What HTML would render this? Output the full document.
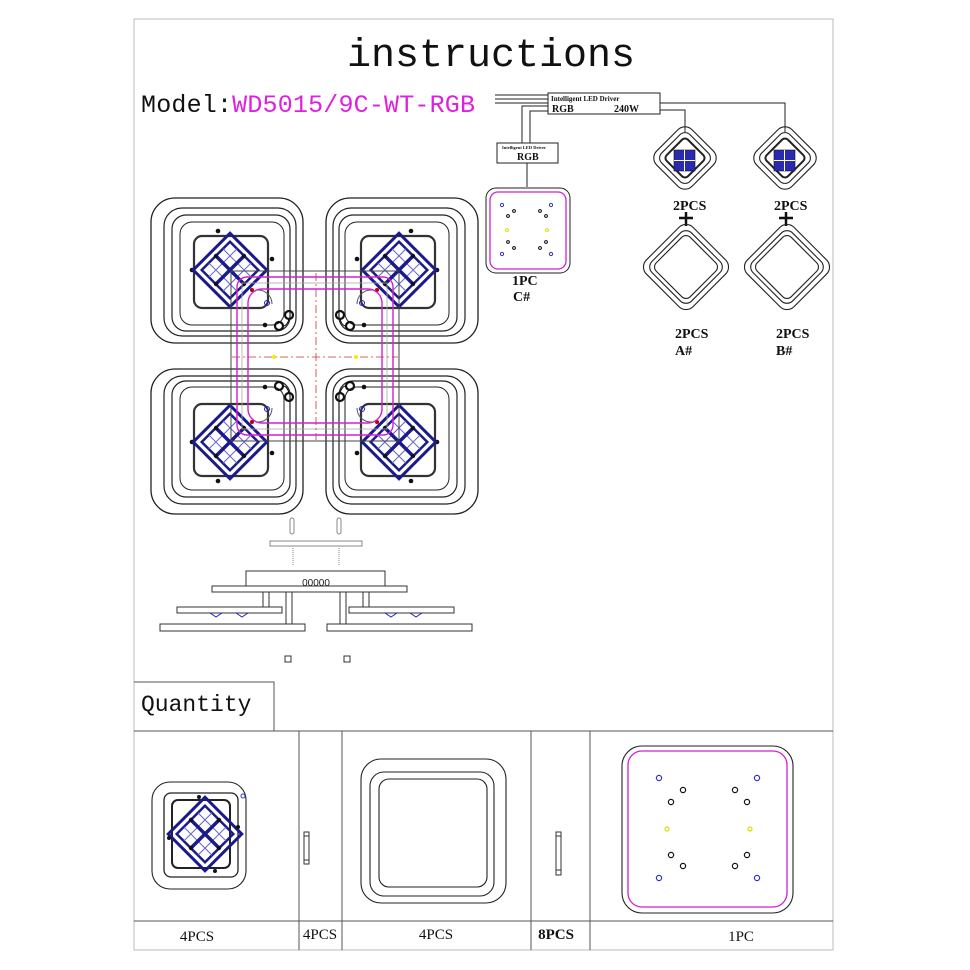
<!DOCTYPE html>
<html><head><meta charset="utf-8"><style>
html,body{margin:0;padding:0;background:#fff;width:970px;height:970px;overflow:hidden}
svg{display:block}
</style></head><body>
<svg width="970" height="970" viewBox="0 0 970 970" xmlns="http://www.w3.org/2000/svg">
<defs>
<g id="dia">
 <g transform="rotate(45)">
  <rect x="-26" y="-26" width="52" height="52" fill="none" stroke="#1a1a8c" stroke-width="3"/>
  <rect x="-20" y="-20" width="40" height="40" fill="none" stroke="#1a1a8c" stroke-width="2.5"/>
  <path d="M-10 -20V20M10 -20V20M-20 -10H20M-20 10H20" stroke="#6060d0" stroke-width="1"/>
  <path d="M0 -20V20M-20 0H20" stroke="#1a1a8c" stroke-width="3.5"/>
 </g>
 <circle cx="-14" cy="-14" r="2.2" fill="#111"/><circle cx="14" cy="-14" r="2.2" fill="#111"/>
 <circle cx="-14" cy="14" r="2.2" fill="#111"/><circle cx="14" cy="14" r="2.2" fill="#111"/>
</g>
<g id="mod">
 <rect x="-76" y="-72" width="152" height="145" rx="24" fill="#fff" stroke="#222" stroke-width="1.3"/>
 <rect x="-63" y="-62" width="132" height="128" rx="18" fill="none" stroke="#222" stroke-width="1.2"/>
 <rect x="-55" y="-55" width="118" height="116" rx="14" fill="none" stroke="#222" stroke-width="1.2"/>
 <rect x="-47" y="-48" width="104" height="103" rx="12" fill="none" stroke="#222" stroke-width="1"/>
 <rect x="-33" y="-34" width="74" height="72" rx="8" fill="none" stroke="#333" stroke-width="2.2"/>
 <circle cx="-9" cy="-39" r="2.3" fill="#111"/><circle cx="-35" cy="0" r="2.3" fill="#111"/>
 <circle cx="45" cy="-11" r="2.3" fill="#111"/><circle cx="38" cy="55" r="2.3" fill="#111"/>
 <use href="#dia" x="3" y="0"/>
 <path d="M30 20 A14 14 0 0 1 45 34" fill="none" stroke="#555" stroke-width="1"/>
 <circle cx="40" cy="33" r="2.5" fill="none" stroke="#22c" stroke-width="1"/>
 <circle cx="25" cy="20" r="2" fill="#b00"/>
 <circle cx="62" cy="45" r="4" fill="none" stroke="#111" stroke-width="2.2"/>
 <circle cx="52" cy="56" r="4" fill="none" stroke="#111" stroke-width="2.2"/>
 <path d="M62 49 Q60 56 56 56" fill="none" stroke="#111" stroke-width="1"/>
</g>
</defs>
<rect x="134" y="19" width="699" height="931" fill="none" stroke="#bbb" stroke-width="1"/>
<text x="491" y="66" font-family="Liberation Mono, monospace" font-size="40" text-anchor="middle" fill="#111">instructions</text>
<text x="141" y="112" font-family="Liberation Mono, monospace" font-size="25" fill="#111" textLength="334">Model:<tspan fill="#e020e0">WD5015/9C-WT-RGB</tspan></text>

<g transform="translate(227,270)"><use href="#mod"/></g>
<g transform="translate(402,270) scale(-1,1)"><use href="#mod"/></g>
<g transform="translate(227,442) scale(1,-1)"><use href="#mod"/></g>
<g transform="translate(402,442) scale(-1,-1)"><use href="#mod"/></g>
<g fill="none">
 <rect x="231" y="271" width="168" height="170" stroke="#444" stroke-width="1"/>
 <rect x="237" y="277" width="156" height="158" rx="10" stroke="#d020d0" stroke-width="1.4"/>
 <rect x="248" y="289" width="134" height="134" rx="14" stroke="#d020d0" stroke-width="1.4"/>
 <rect x="242" y="283" width="145" height="146" stroke="#aaa" stroke-width="0.8"/>
 <line x1="316" y1="273" x2="316" y2="440" stroke="#d03030" stroke-width="0.8" stroke-dasharray="8 3 2 3"/>
 <line x1="232" y1="357" x2="398" y2="357" stroke="#d03030" stroke-width="0.8" stroke-dasharray="8 3 2 3"/>
</g>
<circle cx="274" cy="357" r="2" fill="#ee0"/><circle cx="356" cy="357" r="2" fill="#ee0"/>

<g stroke="#333" fill="#fff" stroke-width="1">
 <rect x="270" y="541" width="92" height="5" stroke="#888"/>
 <rect x="290" y="518" width="4" height="16" rx="2" stroke="#888"/>
 <rect x="337" y="518" width="4" height="16" rx="2" stroke="#888"/>
 <line x1="293" y1="548" x2="293" y2="566" stroke="#888" stroke-dasharray="1 1"/>
 <line x1="339" y1="548" x2="339" y2="566" stroke="#888" stroke-dasharray="1 1"/>
 <rect x="246" y="571" width="139" height="19"/>
 <rect x="212" y="586" width="195" height="6"/>
 <rect x="263" y="592" width="6" height="15"/><rect x="286" y="592" width="6" height="37"/>
 <rect x="340" y="592" width="6" height="37"/><rect x="363" y="592" width="6" height="15"/>
 <rect x="177" y="607" width="105" height="6"/><rect x="160" y="624" width="145" height="7"/>
 <rect x="349" y="607" width="105" height="6"/><rect x="327" y="624" width="145" height="7"/>
 <rect x="285" y="656" width="6" height="6"/><rect x="344" y="656" width="6" height="6"/>
</g>
<text x="316" y="586" font-family="Liberation Sans, sans-serif" font-size="10" text-anchor="middle" fill="#222">00000</text>
<path d="M210 613 l6 4 6 -4 M236 613 l6 4 6 -4 M385 613 l6 4 6 -4 M410 613 l6 4 6 -4" stroke="#22c" fill="none"/>

<g stroke="#222" fill="none" stroke-width="1">
 <path d="M495 95H548M495 99H548M495 103H548"/>
 <rect x="548" y="93" width="112" height="21" fill="#fff"/>
 <path d="M660 103H785V132M660 110H685V132"/>
 <path d="M548 106H522V143M548 111H530V143"/>
 <rect x="497" y="143" width="61" height="20" fill="#fff"/>
 <path d="M527 163V187"/>
 <rect x="486" y="188" width="84" height="85" rx="10"/>
 <rect x="490" y="192" width="76" height="77" rx="8" stroke="#d020d0" stroke-width="1.3"/>
</g>
<text x="551" y="101" font-family="Liberation Serif, serif" font-size="7" font-weight="bold" fill="#111">Intelligent LED Driver</text>
<text x="552" y="112" font-family="Liberation Serif, serif" font-size="10" font-weight="bold" fill="#111">RGB</text>
<text x="614" y="112" font-family="Liberation Serif, serif" font-size="10" font-weight="bold" fill="#111">240W</text>
<text x="502" y="149" font-family="Liberation Serif, serif" font-size="4.5" font-weight="bold" fill="#111">Intelligent LED Driver</text>
<text x="517" y="160" font-family="Liberation Serif, serif" font-size="10" font-weight="bold" fill="#111">RGB</text>
<g fill="none" stroke-width="1">
 <circle cx="502" cy="205" r="1.6" stroke="#33c"/><circle cx="551" cy="205" r="1.6" stroke="#33c"/>
 <circle cx="502" cy="254" r="1.6" stroke="#33c"/><circle cx="551" cy="254" r="1.6" stroke="#33c"/>
 <circle cx="508" cy="216" r="1.4" stroke="#111"/><circle cx="514" cy="211" r="1.4" stroke="#111"/>
 <circle cx="540" cy="211" r="1.4" stroke="#111"/><circle cx="546" cy="216" r="1.4" stroke="#111"/>
 <circle cx="508" cy="242" r="1.4" stroke="#111"/><circle cx="514" cy="248" r="1.4" stroke="#111"/>
 <circle cx="540" cy="248" r="1.4" stroke="#111"/><circle cx="546" cy="242" r="1.4" stroke="#111"/>
 <circle cx="507" cy="230" r="1.4" stroke="#dd0"/><circle cx="547" cy="230" r="1.4" stroke="#dd0"/>
</g>
<g font-family="Liberation Serif, serif" font-weight="bold" font-size="14" fill="#111">
 <text x="512" y="285">1PC</text><text x="513" y="301">C#</text>
 <text x="673" y="210">2PCS</text><text x="774" y="210">2PCS</text>
 <text x="675" y="338">2PCS</text><text x="776" y="338">2PCS</text>
 <text x="675" y="355">A#</text><text x="776" y="355">B#</text>
</g>
<path d="M686 212V226M679 218H693M786 212V226M779 218H793" stroke="#111" stroke-width="2.5"/>
<g fill="none" stroke="#222" stroke-width="1.1">
 <rect x="-25" y="-25" width="50" height="50" rx="10" transform="translate(685,158) rotate(45)"/>
 <rect x="-20" y="-20" width="40" height="40" rx="7" transform="translate(685,158) rotate(45)"/>
 <rect x="-15" y="-15" width="30" height="30" rx="4" transform="translate(685,158) rotate(45)" stroke-width="2"/>
 <rect x="-25" y="-25" width="50" height="50" rx="10" transform="translate(785,158) rotate(45)"/>
 <rect x="-20" y="-20" width="40" height="40" rx="7" transform="translate(785,158) rotate(45)"/>
 <rect x="-15" y="-15" width="30" height="30" rx="4" transform="translate(785,158) rotate(45)" stroke-width="2"/>
 <rect x="-33" y="-33" width="66" height="66" rx="10" transform="translate(686,267) rotate(45)"/>
 <rect x="-28" y="-28" width="56" height="56" rx="8" transform="translate(686,267) rotate(45)"/>
 <rect x="-24" y="-24" width="48" height="48" rx="6" transform="translate(686,267) rotate(45)"/>
 <rect x="-33" y="-33" width="66" height="66" rx="10" transform="translate(787,267) rotate(45)"/>
 <rect x="-28" y="-28" width="56" height="56" rx="8" transform="translate(787,267) rotate(45)"/>
 <rect x="-24" y="-24" width="48" height="48" rx="6" transform="translate(787,267) rotate(45)"/>
</g>
<g fill="#2a2ab0" stroke="#111" stroke-width="0.6">
 <rect x="674" y="150" width="21" height="21"/><rect x="774" y="150" width="21" height="21"/>
</g>
<path d="M684.5 150V171M674 160.5H695M784.5 150V171M774 160.5H795" stroke="#fff" stroke-width="1"/>

<g stroke="#555" fill="none" stroke-width="1">
 <path d="M134 682H274V731"/>
 <path d="M134 731H833M134 921H833"/>
 <path d="M299 731V950M342 731V950M531 731V950M590 731V950"/>
</g>
<text x="141" y="711" font-family="Liberation Mono, monospace" font-size="23" fill="#111">Quantity</text>
<g fill="none" stroke="#222" stroke-width="1.1">
 <rect x="152" y="782" width="94" height="107" rx="18" fill="#fff"/>
 <rect x="164" y="793" width="74" height="84" rx="7" stroke-width="1.3"/>
 <rect x="172" y="800" width="58" height="68" rx="6" stroke-width="2"/>
</g>
<use href="#dia" transform="translate(205,834)"/>
<circle cx="199" cy="797" r="2" fill="#111"/><circle cx="238" cy="827" r="2" fill="#111"/>
<circle cx="169" cy="838" r="2" fill="#111"/><circle cx="215" cy="871" r="2" fill="#111"/>
<circle cx="243" cy="796" r="2" fill="none" stroke="#33c"/>
<rect x="304" y="832" width="5" height="32" fill="none" stroke="#333"/>
<path d="M304 836H309M304 860H309" stroke="#333"/>
<g fill="none" stroke="#222" stroke-width="1.1">
 <rect x="361" y="759" width="145" height="144" rx="20"/>
 <rect x="370" y="772" width="124" height="124" rx="14"/>
 <rect x="379" y="779" width="108" height="108" rx="10"/>
</g>
<rect x="556" y="832" width="5" height="43" fill="none" stroke="#333"/>
<path d="M556 836H561M556 870H561" stroke="#333"/>
<rect x="622" y="746" width="171" height="167" rx="20" fill="none" stroke="#222" stroke-width="1.1"/>
<rect x="628" y="751" width="159" height="156" rx="14" fill="none" stroke="#d020d0" stroke-width="1.3"/>
<g fill="none" stroke-width="1.2">
 <circle cx="659" cy="778" r="2.6" stroke="#33c"/><circle cx="757" cy="778" r="2.6" stroke="#33c"/>
 <circle cx="659" cy="878" r="2.6" stroke="#33c"/><circle cx="757" cy="878" r="2.6" stroke="#33c"/>
 <circle cx="683" cy="790" r="2.6" stroke="#111"/><circle cx="671" cy="802" r="2.6" stroke="#111"/>
 <circle cx="735" cy="790" r="2.6" stroke="#111"/><circle cx="747" cy="802" r="2.6" stroke="#111"/>
 <circle cx="671" cy="855" r="2.6" stroke="#111"/><circle cx="683" cy="866" r="2.6" stroke="#111"/>
 <circle cx="747" cy="855" r="2.6" stroke="#111"/><circle cx="735" cy="866" r="2.6" stroke="#111"/>
 <circle cx="667" cy="829" r="2" stroke="#dd0"/><circle cx="750" cy="829" r="2" stroke="#dd0"/>
</g>
<g font-family="Liberation Serif, serif" font-size="15" fill="#111" text-anchor="middle">
 <text x="197" y="941">4PCS</text><text x="320" y="939">4PCS</text>
 <text x="436" y="939">4PCS</text><text x="556" y="939" font-weight="bold">8PCS</text>
 <text x="741" y="941">1PC</text>
</g>
</svg>
</body></html>
